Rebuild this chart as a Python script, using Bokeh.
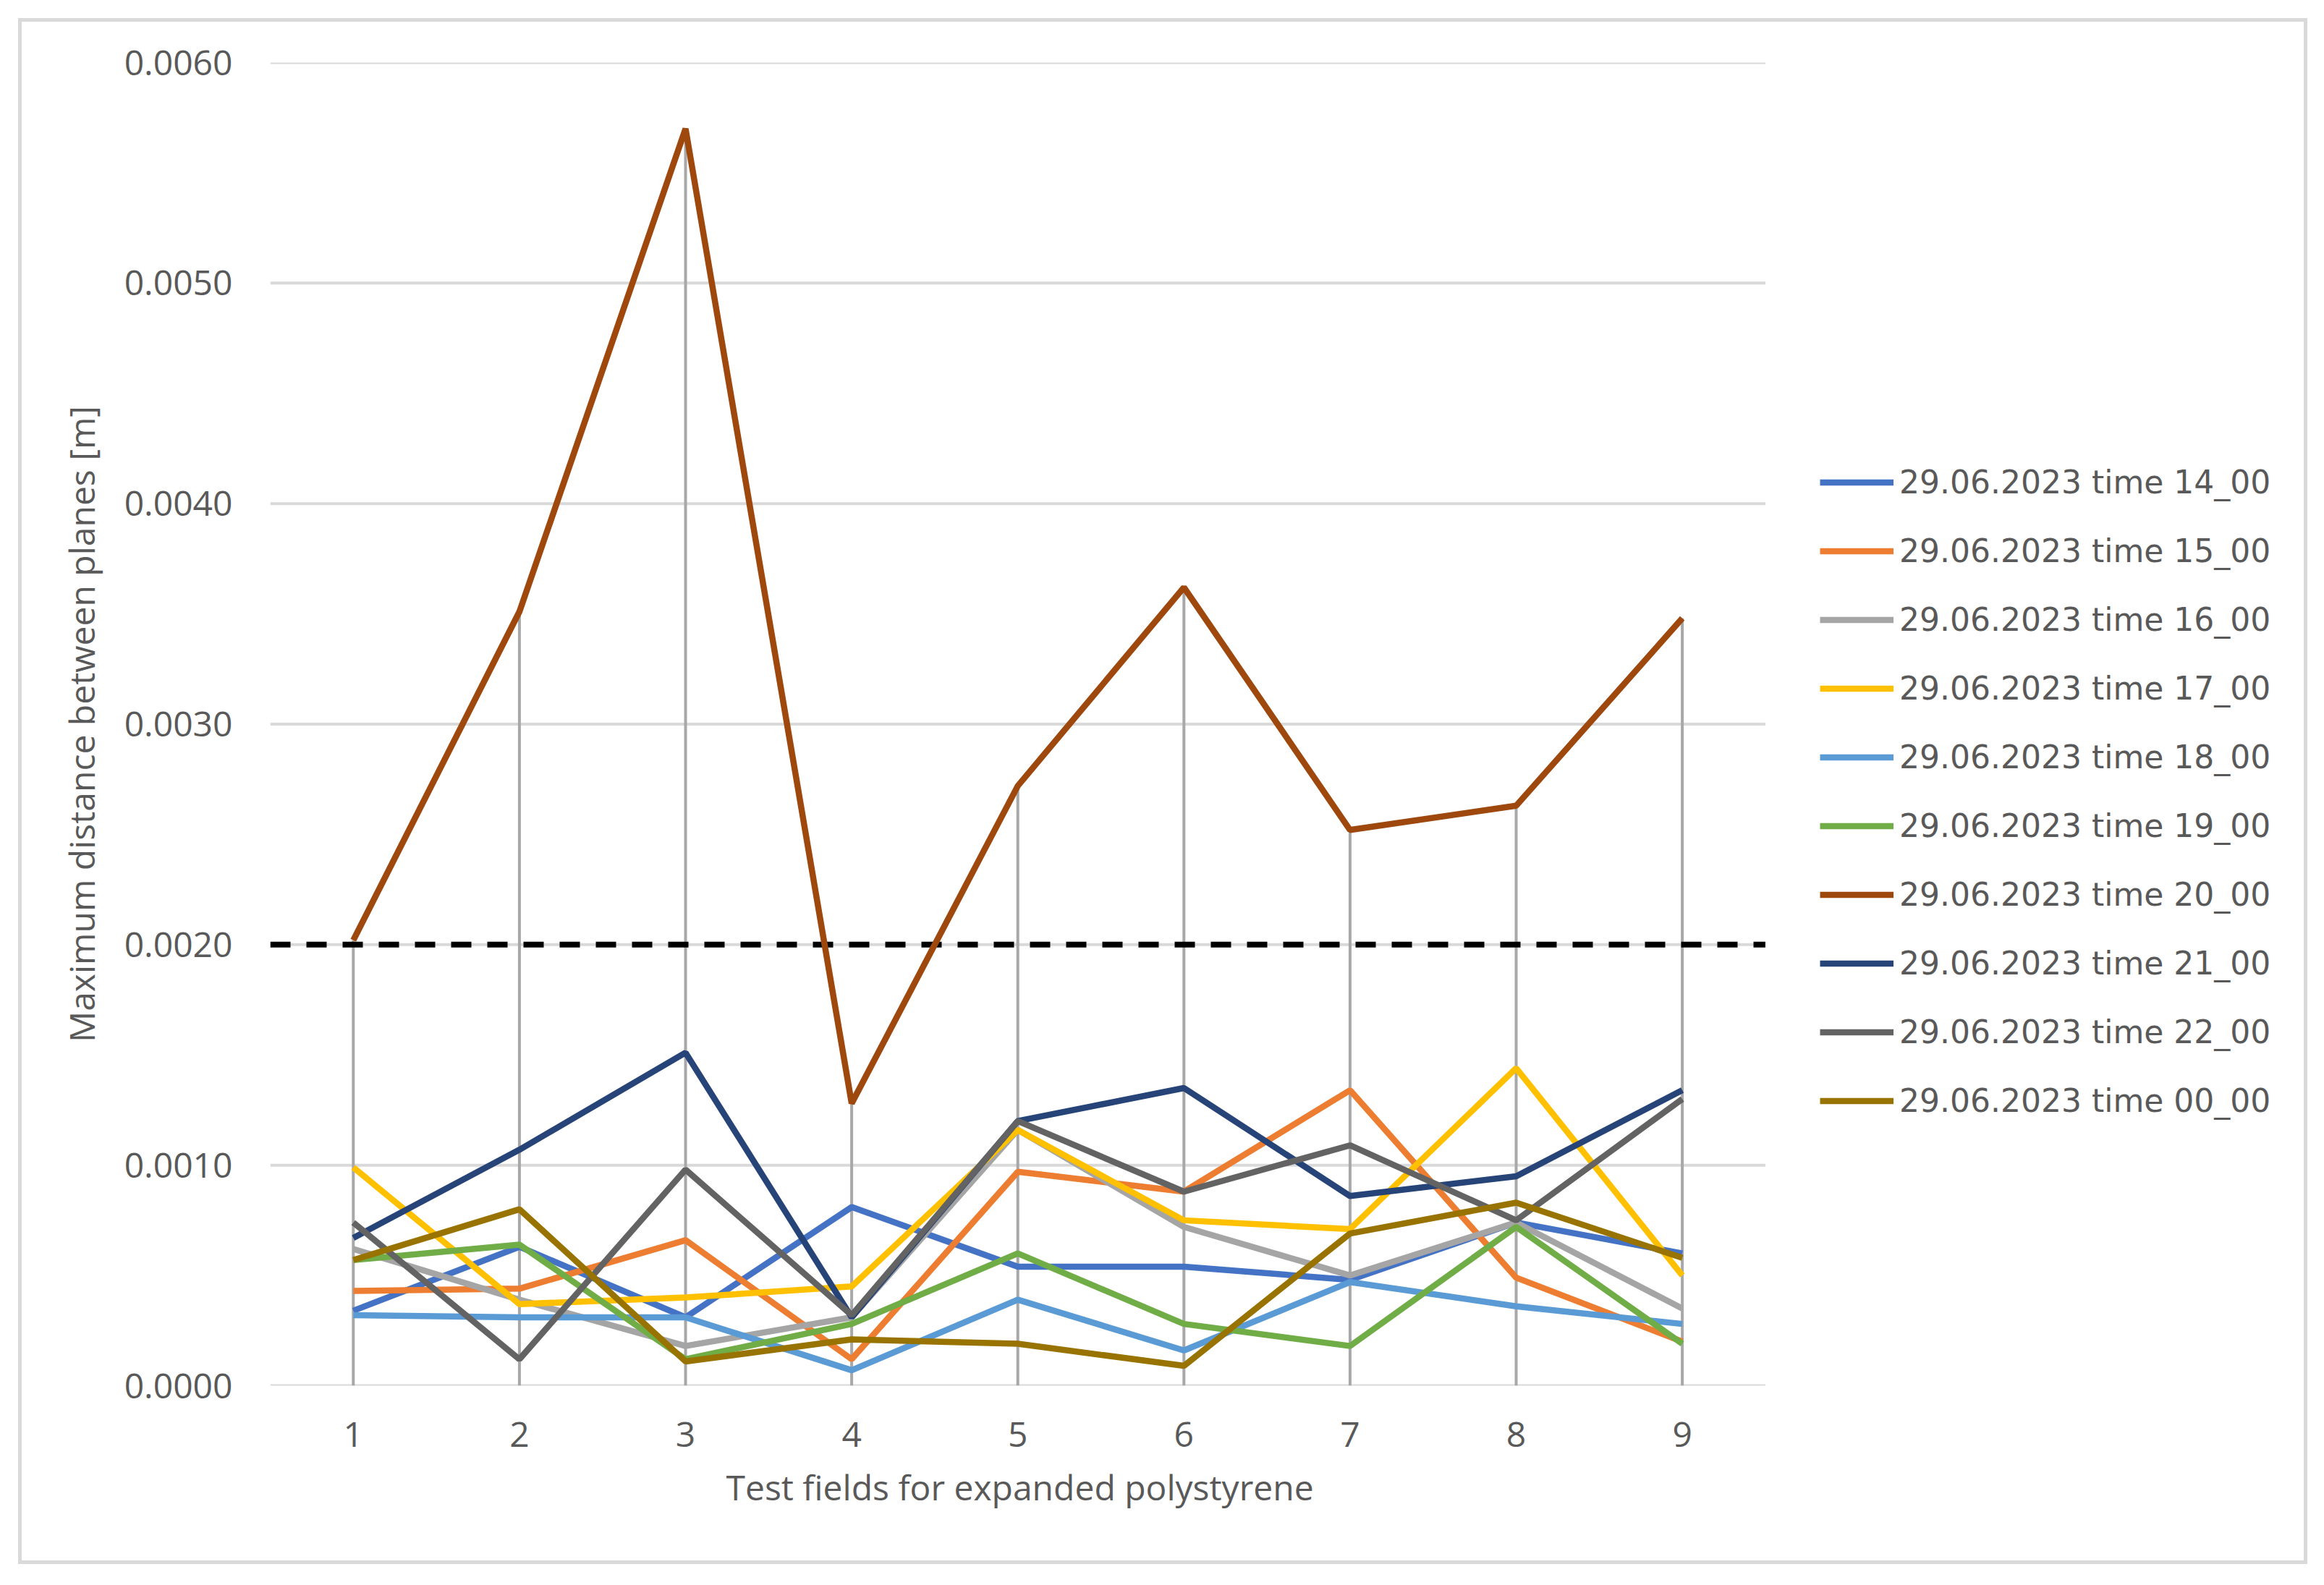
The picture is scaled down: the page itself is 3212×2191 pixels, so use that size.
from bokeh.plotting import figure
from bokeh.models import (ColumnDataSource, Legend, LegendItem, FixedTicker,
                          PrintfTickFormatter, Range1d, Title)
from bokeh.embed import file_html
from bokeh.resources import INLINE

fields = [1, 2, 3, 4, 5, 6, 7, 8, 9]
series_names = ["29.06.2023 time 14_00", "29.06.2023 time 15_00", "29.06.2023 time 16_00",
                "29.06.2023 time 17_00", "29.06.2023 time 18_00", "29.06.2023 time 19_00",
                "29.06.2023 time 20_00", "29.06.2023 time 21_00", "29.06.2023 time 22_00",
                "29.06.2023 time 00_00"]
s14 = [0.00034, 0.00063, 0.00031, 0.00081, 0.00054, 0.00054, 0.00048, 0.00074, 0.00060]
s15 = [0.00043, 0.00044, 0.00066, 0.00012, 0.00097, 0.00088, 0.00134, 0.00049, 0.00020]
s16 = [0.00062, 0.00039, 0.00018, 0.00031, 0.00116, 0.00072, 0.00050, 0.00074, 0.00035]
s17 = [0.00099, 0.00037, 0.00040, 0.00045, 0.00116, 0.00075, 0.00071, 0.00144, 0.00050]
s18 = [0.00032, 0.00031, 0.00031, 0.00007, 0.00039, 0.00016, 0.00047, 0.00036, 0.00028]
s19 = [0.00057, 0.00064, 0.00012, 0.00028, 0.00060, 0.00028, 0.00018, 0.00072, 0.00019]
s20 = [0.00202, 0.00351, 0.00570, 0.00128, 0.00272, 0.00362, 0.00252, 0.00263, 0.00348]
s21 = [0.00067, 0.00107, 0.00151, 0.00031, 0.00120, 0.00135, 0.00086, 0.00095, 0.00134]
s22 = [0.00074, 0.00012, 0.00098, 0.00032, 0.00120, 0.00088, 0.00109, 0.00075, 0.00130]
s00 = [0.00057, 0.00080, 0.00011, 0.00021, 0.00019, 0.00009, 0.00069, 0.00083, 0.00058]
threshold = 0.002
y_ticks = [0.0, 0.001, 0.002, 0.003, 0.004, 0.005, 0.006]
x_title = "Test fields for expanded polystyrene"
y_title = "Maximum distance between planes [m]"

all_series = [s14, s15, s16, s17, s18, s19, s20, s21, s22, s00]
colors = ["#4472C4", "#ED7D31", "#A5A5A5", "#FFC000", "#5B9BD5", "#70AD47",
          "#9E480E", "#264478", "#636363", "#997300"]

# layout (px)
W, H = 3164, 2137
B_LEFT, B_RIGHT, B_TOP, B_BOTTOM = 343, 20, 56, 252
PX_PER_FIELD = 229.6
x_lo, x_hi = fields[0] - 0.5, fields[-1] + 0.5
frame_w = W - B_LEFT - B_RIGHT
x_end = x_lo + frame_w / PX_PER_FIELD   # extra room on the right holds the legend

p = figure(width=W, height=H, output_backend="svg", toolbar_location=None,
           x_range=Range1d(x_lo, x_end), y_range=Range1d(y_ticks[0], y_ticks[-1]),
           min_border_left=B_LEFT, min_border_right=B_RIGHT, min_border_top=B_TOP,
           min_border_bottom=B_BOTTOM)
p.margin = (25, 0, 0, 25)
p.styles = {"border": "5px solid #d9d9d9"}
p.background_fill_color = "white"
p.border_fill_color = "white"
p.outline_line_color = None

FONT = "Open Sans"
TXT = "#595959"

# axes
p.yaxis.ticker = FixedTicker(ticks=y_ticks)
p.yaxis.formatter = PrintfTickFormatter(format="%.4f")
p.xaxis.ticker = FixedTicker(ticks=fields)
for ax in (p.xaxis[0], p.yaxis[0]):
    ax.major_tick_line_color = None
    ax.minor_tick_line_color = None
    ax.axis_line_color = None
    ax.major_label_text_font = FONT
    ax.major_label_text_font_size = "48px"
    ax.major_label_text_color = TXT
    ax.axis_label_text_font = FONT
    ax.axis_label_text_font_size = "48px"
    ax.axis_label_text_font_style = "normal"
    ax.axis_label_text_color = TXT
p.yaxis.major_label_standoff = 46
p.xaxis.major_label_standoff = 44
p.yaxis.axis_label_standoff = 24
p.yaxis.axis_label = y_title
p.xgrid.grid_line_color = None
p.ygrid.grid_line_color = None

# x-axis title centred under the category area (placed as a below-title)
xt = Title(text=x_title, align="left", offset=630, standoff=36,
           text_font=FONT, text_font_size="48px", text_font_style="normal",
           text_color=TXT)
p.add_layout(xt, "below")

# horizontal gridlines limited to the category area
p.segment(x0=[x_lo] * len(y_ticks), y0=y_ticks, x1=[x_hi] * len(y_ticks), y1=y_ticks,
          line_color="#d9d9d9", line_width=4)

# drop lines from the highest series point to the axis
tops = [max(vals) for vals in zip(*all_series)]
p.segment(x0=fields, y0=[0] * len(fields), x1=fields, y1=tops,
          line_color="#a8a8a8", line_width=4)

# threshold dashed line
p.segment(x0=[x_lo], y0=[threshold], x1=[x_hi], y1=[threshold],
          line_color="black", line_width=8, line_dash="28 22")

items = []
for name, vals, col in zip(series_names, all_series, colors):
    src = ColumnDataSource(dict(x=fields, y=vals))
    r = p.line("x", "y", source=src, line_color=col, line_width=8.5)
    items.append(LegendItem(label=name, renderers=[r]))

legend = Legend(items=items, location=(2142, 346), orientation="vertical")
legend.padding = 0
legend.margin = 0
legend.spacing = 0
legend.glyph_width = 102
legend.glyph_height = 95
legend.label_height = 95
legend.label_standoff = 8
legend.label_text_font = "DejaVu Sans"
legend.label_text_font_size = "44px"
legend.label_text_color = TXT
legend.border_line_color = None
legend.background_fill_alpha = 0
p.add_layout(legend)

open("out.html", "w").write(file_html(p, INLINE))
